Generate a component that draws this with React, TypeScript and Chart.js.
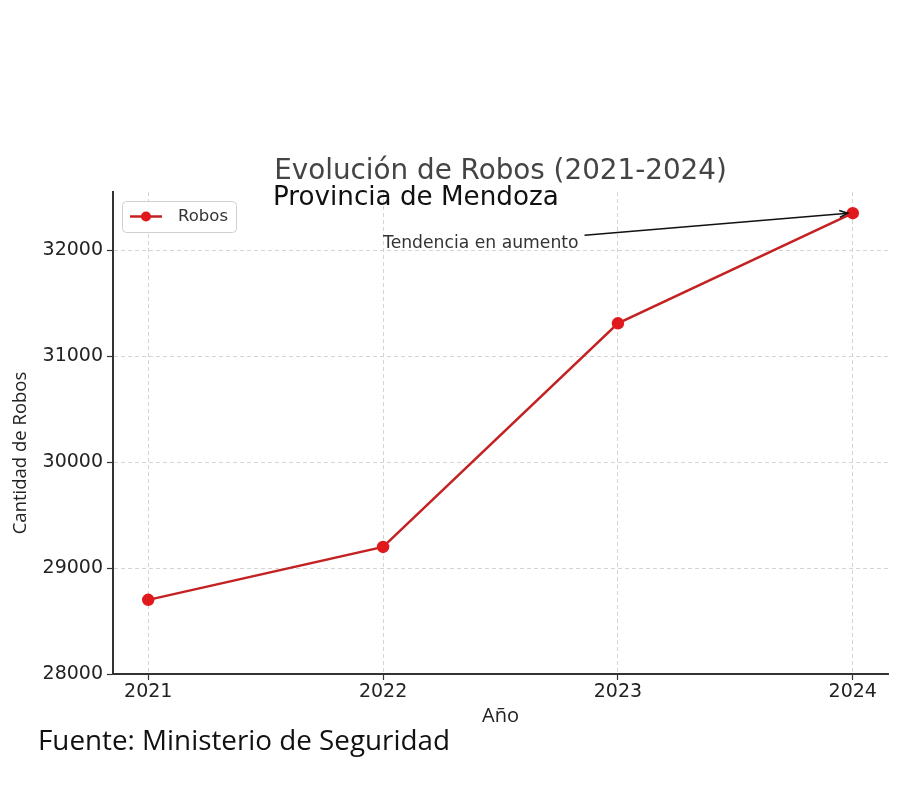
import React, { useEffect, useRef } from "react";
import { Chart, registerables } from "chart.js";

Chart.register(...registerables);

const years = [2021, 2022, 2023, 2024];
const robos = [28700, 29200, 31310, 32350];
const yTicks = [28000, 29000, 30000, 31000, 32000];
const seriesLabel = "Robos";
const titleText = "Evolución de Robos (2021-2024)";
const subtitleText = "Provincia de Mendoza";
const annotationText = "Tendencia en aumento";
const annotationAt = { x: 2022.0, y: 32066 };
const xTitle = "Año";
const yTitle = "Cantidad de Robos";
const footerText = "Fuente: Ministerio de Seguridad";

const RED_LINE = "#c42222";
const RED_POINT = "#e0191c";

export default function App() {
  const ref = useRef<HTMLCanvasElement | null>(null);
  useEffect(() => {
    if (!ref.current) return;
    const overlay = {
      id: "overlay",
      afterDraw(chart: any) {
        const ctx = chart.ctx as CanvasRenderingContext2D;
        const xs = chart.scales.x;
        const ys = chart.scales.y;
        const area = chart.chartArea;
        ctx.save();
        // title
        ctx.fillStyle = "#444444";
        ctx.font = "27.8px 'DejaVu Sans'";
        ctx.textAlign = "center";
        ctx.textBaseline = "middle";
        ctx.fillText(titleText, (area.left + area.right) / 2, 172);
        ctx.fillStyle = "#111111";
        ctx.font = "26.2px 'DejaVu Sans'";
        ctx.textAlign = "left";
        ctx.fillText(subtitleText, 273, 198);
        // annotation
        const tx = xs.getPixelForValue(annotationAt.x);
        const ty = ys.getPixelForValue(annotationAt.y);
        ctx.fillStyle = "#333333";
        ctx.font = "17.2px 'DejaVu Sans'";
        ctx.textAlign = "left";
        ctx.fillText(annotationText, tx, ty);
        const tw = ctx.measureText(annotationText).width;
        const px = xs.getPixelForValue(years[3]);
        const py = ys.getPixelForValue(robos[3]);
        const sx = tx + tw + 6;
        const sy = ty - 8;
        const ex = px - 5;
        const ey = py;
        ctx.strokeStyle = "#111111";
        ctx.lineWidth = 1.6;
        ctx.beginPath();
        ctx.moveTo(sx, sy);
        ctx.lineTo(ex, ey);
        ctx.stroke();
        const ang = Math.atan2(ey - sy, ex - sx);
        const hl = 9;
        ctx.beginPath();
        ctx.moveTo(ex - hl * Math.cos(ang - 0.4), ey - hl * Math.sin(ang - 0.4));
        ctx.lineTo(ex, ey);
        ctx.lineTo(ex - hl * Math.cos(ang + 0.4), ey - hl * Math.sin(ang + 0.4));
        ctx.stroke();
        // legend
        const lx = 122, ly = 201, lw = 114, lh = 31;
        ctx.fillStyle = "rgba(255,255,255,0.85)";
        ctx.strokeStyle = "#d0d0d0";
        ctx.lineWidth = 1;
        ctx.beginPath();
        (ctx as any).roundRect(lx + 0.5, ly + 0.5, lw, lh, 4);
        ctx.fill();
        ctx.stroke();
        ctx.strokeStyle = RED_LINE;
        ctx.lineWidth = 2.5;
        ctx.beginPath();
        ctx.moveTo(lx + 8, ly + 15.5);
        ctx.lineTo(lx + 40, ly + 15.5);
        ctx.stroke();
        ctx.fillStyle = RED_POINT;
        ctx.beginPath();
        ctx.arc(lx + 24, ly + 15.5, 5, 0, Math.PI * 2);
        ctx.fill();
        ctx.fillStyle = "#333333";
        ctx.font = "16.5px 'DejaVu Sans'";
        ctx.textAlign = "left";
        ctx.fillText(seriesLabel, lx + 56, ly + 16);
        // axis titles
        ctx.fillStyle = "#222222";
        ctx.font = "20px 'Open Sans'";
        ctx.textAlign = "center";
        ctx.fillText(xTitle, (area.left + area.right) / 2, 716);
        ctx.font = "18.5px 'Open Sans'";
        ctx.save();
        ctx.translate(21, 453);
        ctx.rotate(-Math.PI / 2);
        ctx.fillText(yTitle, 0, 0);
        ctx.restore();
        // footer
        ctx.fillStyle = "#111111";
        ctx.font = "27.8px 'Open Sans'";
        ctx.textAlign = "left";
        ctx.fillText(footerText, 38, 742);
        ctx.restore();
      },
    };

    const chart = new Chart(ref.current, {
      type: "line",
      data: {
        datasets: [
          {
            label: seriesLabel,
            data: years.map((y, i) => ({ x: y, y: robos[i] })),
            borderColor: RED_LINE,
            borderWidth: 2.5,
            pointBackgroundColor: RED_POINT,
            pointBorderColor: RED_POINT,
            pointRadius: 5,
            tension: 0,
          },
        ],
      },
      options: {
        responsive: false,
        animation: false,
        layout: { padding: { left: 0, right: 12, top: 192, bottom: 0 } },
        plugins: { legend: { display: false }, title: { display: false }, tooltip: { enabled: false } },
        scales: {
          x: {
            type: "linear",
            min: 2020.85,
            max: 2024.15,
            afterFit(scale: any) {
              scale.height = 113;
            },
            afterBuildTicks(scale: any) {
              scale.ticks = years.map((v) => ({ value: v }));
            },
            ticks: {
              callback: (v: any) => String(v),
              color: "#222222",
              font: { family: "'DejaVu Sans'", size: 19 },
              padding: 1,
              maxRotation: 0,
            },
            grid: {
              color: "#cfcfcf",
              lineWidth: 0.9,
              tickColor: "#333333",
              tickLength: 6,
              tickWidth: 1.2,
            },
            border: { color: "#333333", width: 2, dash: [4, 3] },
          },
          y: {
            min: 28000,
            max: 32550,
            afterFit(scale: any) {
              scale.width = 113;
            },
            afterBuildTicks(scale: any) {
              scale.ticks = yTicks.map((v) => ({ value: v }));
            },
            ticks: {
              callback: (v: any) => String(v),
              color: "#222222",
              font: { family: "'DejaVu Sans'", size: 19 },
              padding: 4,
            },
            grid: {
              color: "#cfcfcf",
              lineWidth: 0.9,
              tickColor: "#333333",
              tickLength: 6,
              tickWidth: 1.2,
            },
            border: { color: "#333333", width: 2, dash: [4, 3] },
          },
        },
      },
      plugins: [overlay],
    });
    return () => chart.destroy();
  }, []);
  return (
    <div style={{ position: "fixed", left: 0, top: 0, width: 900, height: 787, background: "#fff" }}>
      <canvas ref={ref} width={900} height={787} />
    </div>
  );
}
